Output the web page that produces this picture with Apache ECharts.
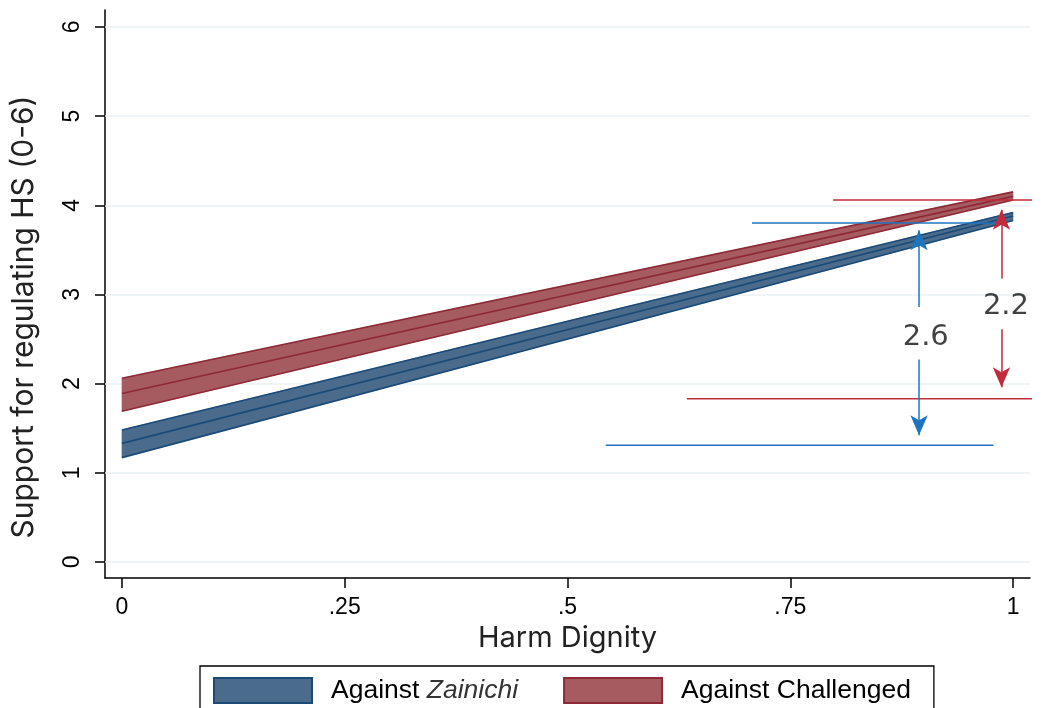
<!DOCTYPE html>
<html>
<head>
<meta charset="utf-8">
<script src="https://cdn.jsdelivr.net/npm/echarts@6/dist/echarts.min.js"></script>
<style>html,body{margin:0;padding:0;background:#fff}#c{width:1054px;height:708px}</style>
</head>
<body>
<div id="c"></div>
<script>
// ---- data ----
const xVals = [0, 1];
const zainichiLo = [1.17, 3.83];
const zainichiMid = [1.33, 3.88];
const zainichiHi = [1.48, 3.92];
const challLo = [1.69, 4.06];
const challMid = [1.89, 4.10];
const challHi = [2.06, 4.15];

const xTicks = [0, 0.25, 0.5, 0.75, 1];
const xTickLabels = ['0', '.25', '.5', '.75', '1'];
const yTicks = [0, 1, 2, 3, 4, 5, 6];

// reference lines: [y, xStart, xEnd]
const blueRefs = [[3.80, 0.707, 0.985], [1.31, 0.543, 0.978]];
const redRefs = [[4.06, 0.798, 1.06], [1.83, 0.634, 1.06]];
// arrows: [x, yFrom, yTo]
const blueArrows = [[0.8945, 2.86, 3.72], [0.8945, 2.27, 1.42]];
const redArrows = [[0.987, 3.18, 3.95], [0.987, 2.61, 1.96]];
// text labels: [x, y, text]
const gapLabels = [[0.902, 2.52, '2.6'], [0.992, 2.86, '2.2']];

const names = ['Against Zainichi', 'Against Challenged'];
const BLUE_FILL = '#4a6b8c', BLUE_EDGE = '#1c4a76';
const RED_FILL = '#a65b61', RED_EDGE = '#8e2a35';
const BLUE_ANN = '#1f74bf', RED_ANN = '#c22b39';

function pts(arr) { return xVals.map((x, i) => [x, arr[i]]); }

function band(name, lo, mid, hi, fill, edge, key) {
  return [
    { name: name, type: 'custom', z: 2, silent: true,
      data: xVals.map((x, i) => [x, lo[i], hi[i]]),
      encode: { x: 0, y: [1, 2] },
      itemStyle: { color: fill },
      renderItem: function (params, api) {
        const i = params.dataIndex;
        if (i >= xVals.length - 1) return null;
        const p = [
          api.coord([xVals[i], lo[i]]), api.coord([xVals[i + 1], lo[i + 1]]),
          api.coord([xVals[i + 1], hi[i + 1]]), api.coord([xVals[i], hi[i]])
        ];
        return { type: 'polygon', shape: { points: p }, style: { fill: fill, stroke: fill, lineWidth: 0.5 } };
      }
    },
    { name: key + 'lo', type: 'line', data: pts(lo), symbol: 'none', lineStyle: { color: edge, width: 1.6 }, z: 3 },
    { name: key + 'mid', type: 'line', data: pts(mid), symbol: 'none', lineStyle: { color: edge, width: 1.6 }, z: 3 },
    { name: key + 'hi', type: 'line', data: pts(hi), symbol: 'none', lineStyle: { color: edge, width: 1.6 }, z: 3 }
  ];
}

function refLines(refs, color, key) {
  return refs.map((r, i) => ({
    name: key + i, type: 'line', data: [[r[1], r[0]], [r[2], r[0]]], symbol: 'none', clip: false,
    lineStyle: { color: color, width: 1.5 }, z: 4, silent: true
  }));
}

function arrows(arr, color, key) {
  return {
    name: key, type: 'line', data: [], z: 5, silent: true,
    markLine: {
      silent: true, symbol: ['none', 'arrow'], symbolSize: [13, 20], z: 5,
      label: { show: false },
      lineStyle: { color: color, width: 1.5, type: 'solid' },
      emphasis: { disabled: true },
      data: arr.map(a => [{ coord: [a[0], a[1]] }, { coord: [a[0], a[2]] }])
    }
  };
}

const series = [
  { name: 'grid', type: 'line', data: [], silent: true, z: 1,
    markLine: { silent: true, symbol: 'none', label: { show: false }, z: 1,
      lineStyle: { color: '#eaf2f3', width: 1.6, type: 'solid' },
      data: yTicks.map(v => ({ yAxis: v })) } },
  ...band(names[0], zainichiLo, zainichiMid, zainichiHi, BLUE_FILL, BLUE_EDGE, 'z'),
  ...band(names[1], challLo, challMid, challHi, RED_FILL, RED_EDGE, 'c'),
  ...refLines(blueRefs, BLUE_ANN, 'br'),
  ...refLines(redRefs, RED_ANN, 'rr'),
  arrows(blueArrows, BLUE_ANN, 'ba'),
  arrows(redArrows, RED_ANN, 'ra'),
  { name: 'gaps', type: 'scatter', symbolSize: 1, itemStyle: { color: 'rgba(0,0,0,0)' }, z: 6,
    data: gapLabels.map(g => ({ value: [g[0], g[1]], label: { formatter: g[2] } })),
    label: { show: true, position: 'inside', color: '#111', fontFamily: 'DejaVu Sans', fontSize: 29 } }
];

const chart = echarts.init(document.getElementById('c'), null, { renderer: 'canvas' });
chart.setOption({
  animation: false,
  backgroundColor: '#fff',
  grid: { left: 105, right: 24, top: 10, bottom: 130, containLabel: false, outerBoundsMode: 'none' },
  xAxis: {
    type: 'value', min: -0.019, max: 1.019,
    name: 'Harm Dignity', nameLocation: 'middle', nameGap: 43,
    nameTextStyle: { fontFamily: 'Inter', fontSize: 29, color: '#222' },
    axisLine: { show: true, onZero: false, lineStyle: { color: '#000', width: 1.5 } },
    axisTick: { show: true, length: 10, lineStyle: { color: '#000', width: 1.5 }, customValues: xTicks },
    axisLabel: { customValues: xTicks, color: '#000', fontFamily: 'Liberation Sans', fontSize: 23, margin: 18,
      formatter: v => xTickLabels[xTicks.indexOf(v)] },
    splitLine: { show: false }
  },
  yAxis: {
    type: 'value', min: -0.18, max: 6.19,
    name: 'Support for regulating HS (0-6)', nameLocation: 'middle', nameGap: 66, nameRotate: 90,
    nameTextStyle: { fontFamily: 'Inter', fontSize: 30, color: '#222', padding: [0, 46, 0, 0] },
    axisLine: { show: true, onZero: false, lineStyle: { color: '#000', width: 1.5 } },
    axisTick: { show: true, length: 10, lineStyle: { color: '#000', width: 1.5 }, customValues: yTicks },
    axisLabel: { customValues: yTicks, rotate: 90, color: '#000', fontFamily: 'Liberation Sans', fontSize: 23, margin: 21 },
    splitLine: { show: false }
  },
  legend: {
    left: 200, top: 666, orient: 'horizontal',
    padding: [11, 23, 11, 13], itemGap: 45, itemWidth: 98, itemHeight: 25,
    borderColor: '#000', borderWidth: 1.3, backgroundColor: '#fff',
    selectedMode: false,
    data: [
      { name: names[0], icon: 'rect', itemStyle: { color: BLUE_FILL, borderColor: BLUE_EDGE, borderWidth: 2 } },
      { name: names[1], icon: 'rect', itemStyle: { color: RED_FILL, borderColor: RED_EDGE, borderWidth: 2 } }
    ],
    formatter: n => n === names[0] ? '{a|Against }{b|Zainichi}' : '{a|' + n + '}',
    textStyle: {
      padding: [0, 0, 0, 14],
      rich: {
        a: { fontFamily: 'Liberation Sans', fontSize: 26.5, color: '#000' },
        b: { fontFamily: 'Liberation Sans', fontSize: 26.5, color: '#333', fontStyle: 'italic' }
      }
    }
  },
  series: series
});
</script>
</body>
</html>
